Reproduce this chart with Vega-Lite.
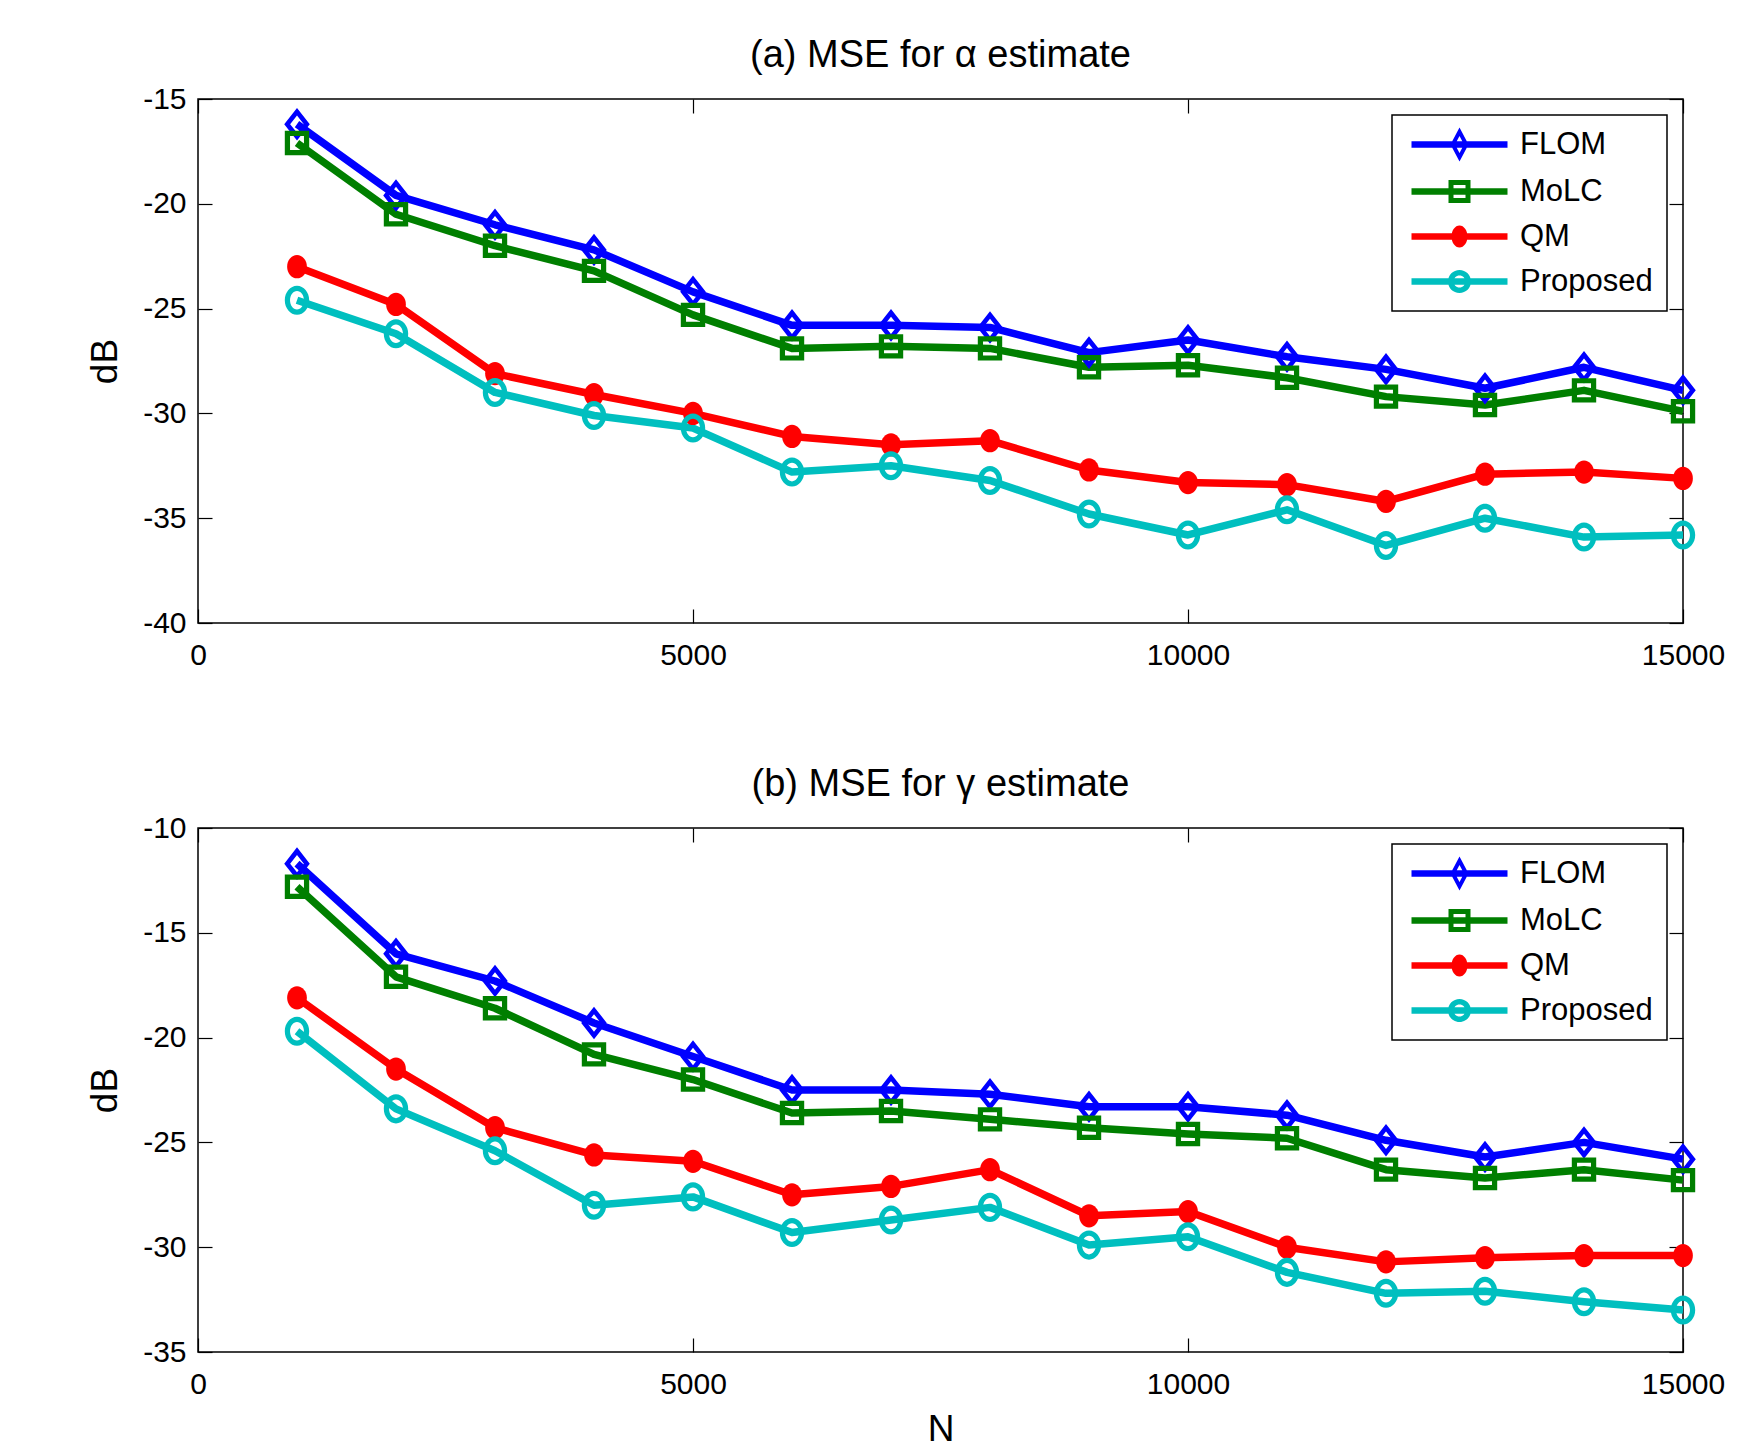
{
  "$schema": "https://vega.github.io/schema/vega-lite/v6.json",
  "background": "white",
  "padding": {"left": 85, "top": 36, "right": 30, "bottom": 0},
  "spacing": 94,
  "config": {
    "font": "Liberation Sans",
    "view": {"stroke": "black", "strokeWidth": 1.5},
    "axis": {"grid": false, "domain": false, "tickColor": "black", "tickWidth": 1.2, "tickSize": -14, "labelFlush": false,
             "labelFont": "Liberation Sans", "labelFontSize": 30, "labelColor": "black",
             "titleFont": "Liberation Sans", "titleFontSize": 37, "titleFontWeight": "normal", "titleColor": "black"},
    "axisX": {"labelPadding": 31, "titlePadding": 12},
    "axisY": {"labelPadding": 26, "titlePadding": 18},
    "title": {"font": "Liberation Sans", "fontSize": 38, "fontWeight": "normal", "color": "black", "anchor": "middle", "offset": 9},
    "legend": {"orient": "top-right", "offset": 16, "strokeColor": "black", "strokeWidth": 1.5, "fillColor": "white",
               "padding": 14, "labelFont": "Liberation Sans", "labelFontSize": 31, "labelColor": "black",
               "symbolSize": 400, "symbolOffset": 38, "labelOffset": 45, "rowPadding": 13}
  },
  "resolve": {"scale": {"color": "independent"}, "legend": {"color": "independent"}},
  "datasets": {
    "alpha": [
      {"N":1000,"method":"FLOM","dB":-16.2},{"N":2000,"method":"FLOM","dB":-19.6},{"N":3000,"method":"FLOM","dB":-21.0},{"N":4000,"method":"FLOM","dB":-22.2},{"N":5000,"method":"FLOM","dB":-24.2},{"N":6000,"method":"FLOM","dB":-25.8},{"N":7000,"method":"FLOM","dB":-25.8},{"N":8000,"method":"FLOM","dB":-25.9},{"N":9000,"method":"FLOM","dB":-27.1},{"N":10000,"method":"FLOM","dB":-26.5},{"N":11000,"method":"FLOM","dB":-27.3},{"N":12000,"method":"FLOM","dB":-27.9},{"N":13000,"method":"FLOM","dB":-28.8},{"N":14000,"method":"FLOM","dB":-27.8},{"N":15000,"method":"FLOM","dB":-28.9},
      {"N":1000,"method":"MoLC","dB":-17.1},{"N":2000,"method":"MoLC","dB":-20.5},{"N":3000,"method":"MoLC","dB":-22.0},{"N":4000,"method":"MoLC","dB":-23.2},{"N":5000,"method":"MoLC","dB":-25.3},{"N":6000,"method":"MoLC","dB":-26.9},{"N":7000,"method":"MoLC","dB":-26.8},{"N":8000,"method":"MoLC","dB":-26.9},{"N":9000,"method":"MoLC","dB":-27.8},{"N":10000,"method":"MoLC","dB":-27.7},{"N":11000,"method":"MoLC","dB":-28.3},{"N":12000,"method":"MoLC","dB":-29.2},{"N":13000,"method":"MoLC","dB":-29.6},{"N":14000,"method":"MoLC","dB":-28.9},{"N":15000,"method":"MoLC","dB":-29.9},
      {"N":1000,"method":"QM","dB":-23.0},{"N":2000,"method":"QM","dB":-24.8},{"N":3000,"method":"QM","dB":-28.1},{"N":4000,"method":"QM","dB":-29.1},{"N":5000,"method":"QM","dB":-30.0},{"N":6000,"method":"QM","dB":-31.1},{"N":7000,"method":"QM","dB":-31.5},{"N":8000,"method":"QM","dB":-31.3},{"N":9000,"method":"QM","dB":-32.7},{"N":10000,"method":"QM","dB":-33.3},{"N":11000,"method":"QM","dB":-33.4},{"N":12000,"method":"QM","dB":-34.2},{"N":13000,"method":"QM","dB":-32.9},{"N":14000,"method":"QM","dB":-32.8},{"N":15000,"method":"QM","dB":-33.1},
      {"N":1000,"method":"Proposed","dB":-24.6},{"N":2000,"method":"Proposed","dB":-26.2},{"N":3000,"method":"Proposed","dB":-29.0},{"N":4000,"method":"Proposed","dB":-30.1},{"N":5000,"method":"Proposed","dB":-30.7},{"N":6000,"method":"Proposed","dB":-32.8},{"N":7000,"method":"Proposed","dB":-32.5},{"N":8000,"method":"Proposed","dB":-33.2},{"N":9000,"method":"Proposed","dB":-34.8},{"N":10000,"method":"Proposed","dB":-35.8},{"N":11000,"method":"Proposed","dB":-34.6},{"N":12000,"method":"Proposed","dB":-36.3},{"N":13000,"method":"Proposed","dB":-35.0},{"N":14000,"method":"Proposed","dB":-35.9},{"N":15000,"method":"Proposed","dB":-35.8}
    ],
    "gamma": [
      {"N":1000,"method":"FLOM","dB":-11.7},{"N":2000,"method":"FLOM","dB":-16.0},{"N":3000,"method":"FLOM","dB":-17.3},{"N":4000,"method":"FLOM","dB":-19.3},{"N":5000,"method":"FLOM","dB":-20.9},{"N":6000,"method":"FLOM","dB":-22.5},{"N":7000,"method":"FLOM","dB":-22.5},{"N":8000,"method":"FLOM","dB":-22.7},{"N":9000,"method":"FLOM","dB":-23.3},{"N":10000,"method":"FLOM","dB":-23.3},{"N":11000,"method":"FLOM","dB":-23.7},{"N":12000,"method":"FLOM","dB":-24.9},{"N":13000,"method":"FLOM","dB":-25.7},{"N":14000,"method":"FLOM","dB":-25.0},{"N":15000,"method":"FLOM","dB":-25.8},
      {"N":1000,"method":"MoLC","dB":-12.8},{"N":2000,"method":"MoLC","dB":-17.1},{"N":3000,"method":"MoLC","dB":-18.6},{"N":4000,"method":"MoLC","dB":-20.8},{"N":5000,"method":"MoLC","dB":-22.0},{"N":6000,"method":"MoLC","dB":-23.6},{"N":7000,"method":"MoLC","dB":-23.5},{"N":8000,"method":"MoLC","dB":-23.9},{"N":9000,"method":"MoLC","dB":-24.3},{"N":10000,"method":"MoLC","dB":-24.6},{"N":11000,"method":"MoLC","dB":-24.8},{"N":12000,"method":"MoLC","dB":-26.3},{"N":13000,"method":"MoLC","dB":-26.7},{"N":14000,"method":"MoLC","dB":-26.3},{"N":15000,"method":"MoLC","dB":-26.8},
      {"N":1000,"method":"QM","dB":-18.1},{"N":2000,"method":"QM","dB":-21.5},{"N":3000,"method":"QM","dB":-24.3},{"N":4000,"method":"QM","dB":-25.6},{"N":5000,"method":"QM","dB":-25.9},{"N":6000,"method":"QM","dB":-27.5},{"N":7000,"method":"QM","dB":-27.1},{"N":8000,"method":"QM","dB":-26.3},{"N":9000,"method":"QM","dB":-28.5},{"N":10000,"method":"QM","dB":-28.3},{"N":11000,"method":"QM","dB":-30.0},{"N":12000,"method":"QM","dB":-30.7},{"N":13000,"method":"QM","dB":-30.5},{"N":14000,"method":"QM","dB":-30.4},{"N":15000,"method":"QM","dB":-30.4},
      {"N":1000,"method":"Proposed","dB":-19.7},{"N":2000,"method":"Proposed","dB":-23.4},{"N":3000,"method":"Proposed","dB":-25.4},{"N":4000,"method":"Proposed","dB":-28.0},{"N":5000,"method":"Proposed","dB":-27.6},{"N":6000,"method":"Proposed","dB":-29.3},{"N":7000,"method":"Proposed","dB":-28.7},{"N":8000,"method":"Proposed","dB":-28.1},{"N":9000,"method":"Proposed","dB":-29.9},{"N":10000,"method":"Proposed","dB":-29.5},{"N":11000,"method":"Proposed","dB":-31.2},{"N":12000,"method":"Proposed","dB":-32.2},{"N":13000,"method":"Proposed","dB":-32.1},{"N":14000,"method":"Proposed","dB":-32.6},{"N":15000,"method":"Proposed","dB":-33.0}
    ]
  },
  "vconcat": [
    {
      "title": "(a) MSE for α estimate",
      "width": 1485, "height": 524,
      "data": {"name": "alpha"},
      "layer": [
        {
          "mark": {"type": "line", "strokeWidth": 7.5, "strokeJoin": "round"},
          "encoding": {
            "x": {"field": "N", "type": "quantitative", "scale": {"domain": [0, 15000], "nice": false, "zero": false},
                  "axis": {"orient": "top", "values": [0, 5000, 10000, 15000], "labels": false, "title": null}},
            "y": {"field": "dB", "type": "quantitative", "scale": {"domain": [-40, -15], "nice": false, "zero": false},
                  "axis": {"orient": "right", "values": [-40, -35, -30, -25, -20, -15], "labels": false, "title": null}},
            "color": {"field": "method", "type": "nominal",
                      "scale": {"domain": ["FLOM", "MoLC", "QM", "Proposed"], "range": ["#0000ff", "#007f00", "#ff0000", "#00bfbf"]},
                      "legend": {"title": null,
                        "encoding": {"symbols": {
                          "shape": {"value": {"expr": "datum.value === 'FLOM' ? 'M-4.8,-0.32L4.8,-0.32L4.8,0.32L-4.8,0.32Z M0,-1.7L0.9,0L0,1.7L-0.9,0Z M0,-0.85L-0.45,0L0,0.85L0.45,0Z' : datum.value === 'MoLC' ? 'M-4.8,-0.32L4.8,-0.32L4.8,0.32L-4.8,0.32Z M-1.1,-1.15L1.1,-1.15L1.1,1.15L-1.1,1.15Z M-0.6,-0.65L-0.6,0.65L0.6,0.65L0.6,-0.65Z' : datum.value === 'QM' ? 'M-4.8,-0.32L4.8,-0.32L4.8,0.32L-4.8,0.32Z M0.8,0A0.8,1.1 0 1,1 -0.8,0A0.8,1.1 0 1,1 0.8,0Z' : 'M-4.8,-0.32L4.8,-0.32L4.8,0.32L-4.8,0.32Z M1.15,0A1.15,1.15 0 1,1 -1.15,0A1.15,1.15 0 1,1 1.15,0Z M0.6,0A0.6,0.6 0 1,0 -0.6,0A0.6,0.6 0 1,0 0.6,0Z'"}},
                          "fill": {"value": {"expr": "datum.value === 'FLOM' ? '#0000ff' : datum.value === 'MoLC' ? '#007f00' : datum.value === 'QM' ? '#ff0000' : '#00bfbf'"}},
                          "fillOpacity": {"value": 1},
                          "opacity": {"value": 1},
                          "strokeWidth": {"value": 0}
                        }}}}
          }
        },
        {
          "transform": [{"filter": {"field": "method", "equal": "FLOM"}}],
          "mark": {"type": "point", "filled": true, "size": 540, "opacity": 1, "strokeWidth": 0, "shape": "M0,-1.4L1.1,0L0,1.4L-1.1,0Z M0,-0.75L-0.59,0L0,0.75L0.59,0Z"},
          "encoding": {
            "x": {"field": "N", "type": "quantitative",
                  "axis": {"orient": "bottom", "values": [0, 5000, 10000, 15000], "title": null, "labelExpr": "'' + datum.value"}},
            "y": {"field": "dB", "type": "quantitative",
                  "axis": {"orient": "left", "values": [-40, -35, -30, -25, -20, -15], "title": "dB", "labelExpr": "'' + datum.value"}},
            "color": {"field": "method", "type": "nominal"}
          }
        },
        {
          "transform": [{"filter": {"field": "method", "equal": "MoLC"}}],
          "mark": {"type": "point", "filled": true, "size": 540, "opacity": 1, "strokeWidth": 0, "shape": "M-1.05,-1.05L1.05,-1.05L1.05,1.05L-1.05,1.05Z M-0.6,-0.6L-0.6,0.6L0.6,0.6L0.6,-0.6Z"},
          "encoding": {
            "x": {"field": "N", "type": "quantitative", "axis": null},
            "y": {"field": "dB", "type": "quantitative", "axis": null},
            "color": {"field": "method", "type": "nominal"}
          }
        },
        {
          "transform": [{"filter": {"field": "method", "equal": "QM"}}],
          "mark": {"type": "point", "filled": true, "size": 540, "opacity": 1, "strokeWidth": 0, "shape": "M0.85,0A0.85,1 0 1,1 -0.85,0A0.85,1 0 1,1 0.85,0Z"},
          "encoding": {
            "x": {"field": "N", "type": "quantitative", "axis": null},
            "y": {"field": "dB", "type": "quantitative", "axis": null},
            "color": {"field": "method", "type": "nominal"}
          }
        },
        {
          "transform": [{"filter": {"field": "method", "equal": "Proposed"}}],
          "mark": {"type": "point", "filled": true, "size": 540, "opacity": 1, "strokeWidth": 0, "shape": "M1.05,0A1.05,1.25 0 1,1 -1.05,0A1.05,1.25 0 1,1 1.05,0Z M0.6,0A0.6,0.8 0 1,0 -0.6,0A0.6,0.8 0 1,0 0.6,0Z"},
          "encoding": {
            "x": {"field": "N", "type": "quantitative", "axis": null},
            "y": {"field": "dB", "type": "quantitative", "axis": null},
            "color": {"field": "method", "type": "nominal"}
          }
        }
      ]
    },
    {
      "title": "(b) MSE for γ estimate",
      "width": 1485, "height": 524,
      "data": {"name": "gamma"},
      "layer": [
        {
          "mark": {"type": "line", "strokeWidth": 7.5, "strokeJoin": "round"},
          "encoding": {
            "x": {"field": "N", "type": "quantitative", "scale": {"domain": [0, 15000], "nice": false, "zero": false},
                  "axis": {"orient": "top", "values": [0, 5000, 10000, 15000], "labels": false, "title": null}},
            "y": {"field": "dB", "type": "quantitative", "scale": {"domain": [-35, -10], "nice": false, "zero": false},
                  "axis": {"orient": "right", "values": [-35, -30, -25, -20, -15, -10], "labels": false, "title": null}},
            "color": {"field": "method", "type": "nominal",
                      "scale": {"domain": ["FLOM", "MoLC", "QM", "Proposed"], "range": ["#0000ff", "#007f00", "#ff0000", "#00bfbf"]},
                      "legend": {"title": null,
                        "encoding": {"symbols": {
                          "shape": {"value": {"expr": "datum.value === 'FLOM' ? 'M-4.8,-0.32L4.8,-0.32L4.8,0.32L-4.8,0.32Z M0,-1.7L0.9,0L0,1.7L-0.9,0Z M0,-0.85L-0.45,0L0,0.85L0.45,0Z' : datum.value === 'MoLC' ? 'M-4.8,-0.32L4.8,-0.32L4.8,0.32L-4.8,0.32Z M-1.1,-1.15L1.1,-1.15L1.1,1.15L-1.1,1.15Z M-0.6,-0.65L-0.6,0.65L0.6,0.65L0.6,-0.65Z' : datum.value === 'QM' ? 'M-4.8,-0.32L4.8,-0.32L4.8,0.32L-4.8,0.32Z M0.8,0A0.8,1.1 0 1,1 -0.8,0A0.8,1.1 0 1,1 0.8,0Z' : 'M-4.8,-0.32L4.8,-0.32L4.8,0.32L-4.8,0.32Z M1.15,0A1.15,1.15 0 1,1 -1.15,0A1.15,1.15 0 1,1 1.15,0Z M0.6,0A0.6,0.6 0 1,0 -0.6,0A0.6,0.6 0 1,0 0.6,0Z'"}},
                          "fill": {"value": {"expr": "datum.value === 'FLOM' ? '#0000ff' : datum.value === 'MoLC' ? '#007f00' : datum.value === 'QM' ? '#ff0000' : '#00bfbf'"}},
                          "fillOpacity": {"value": 1},
                          "opacity": {"value": 1},
                          "strokeWidth": {"value": 0}
                        }}}}
          }
        },
        {
          "transform": [{"filter": {"field": "method", "equal": "FLOM"}}],
          "mark": {"type": "point", "filled": true, "size": 540, "opacity": 1, "strokeWidth": 0, "shape": "M0,-1.4L1.1,0L0,1.4L-1.1,0Z M0,-0.75L-0.59,0L0,0.75L0.59,0Z"},
          "encoding": {
            "x": {"field": "N", "type": "quantitative",
                  "axis": {"orient": "bottom", "values": [0, 5000, 10000, 15000], "title": "N", "labelExpr": "'' + datum.value"}},
            "y": {"field": "dB", "type": "quantitative",
                  "axis": {"orient": "left", "values": [-35, -30, -25, -20, -15, -10], "title": "dB", "labelExpr": "'' + datum.value"}},
            "color": {"field": "method", "type": "nominal"}
          }
        },
        {
          "transform": [{"filter": {"field": "method", "equal": "MoLC"}}],
          "mark": {"type": "point", "filled": true, "size": 540, "opacity": 1, "strokeWidth": 0, "shape": "M-1.05,-1.05L1.05,-1.05L1.05,1.05L-1.05,1.05Z M-0.6,-0.6L-0.6,0.6L0.6,0.6L0.6,-0.6Z"},
          "encoding": {
            "x": {"field": "N", "type": "quantitative", "axis": null},
            "y": {"field": "dB", "type": "quantitative", "axis": null},
            "color": {"field": "method", "type": "nominal"}
          }
        },
        {
          "transform": [{"filter": {"field": "method", "equal": "QM"}}],
          "mark": {"type": "point", "filled": true, "size": 540, "opacity": 1, "strokeWidth": 0, "shape": "M0.85,0A0.85,1 0 1,1 -0.85,0A0.85,1 0 1,1 0.85,0Z"},
          "encoding": {
            "x": {"field": "N", "type": "quantitative", "axis": null},
            "y": {"field": "dB", "type": "quantitative", "axis": null},
            "color": {"field": "method", "type": "nominal"}
          }
        },
        {
          "transform": [{"filter": {"field": "method", "equal": "Proposed"}}],
          "mark": {"type": "point", "filled": true, "size": 540, "opacity": 1, "strokeWidth": 0, "shape": "M1.05,0A1.05,1.25 0 1,1 -1.05,0A1.05,1.25 0 1,1 1.05,0Z M0.6,0A0.6,0.8 0 1,0 -0.6,0A0.6,0.8 0 1,0 0.6,0Z"},
          "encoding": {
            "x": {"field": "N", "type": "quantitative", "axis": null},
            "y": {"field": "dB", "type": "quantitative", "axis": null},
            "color": {"field": "method", "type": "nominal"}
          }
        }
      ]
    }
  ]
}
